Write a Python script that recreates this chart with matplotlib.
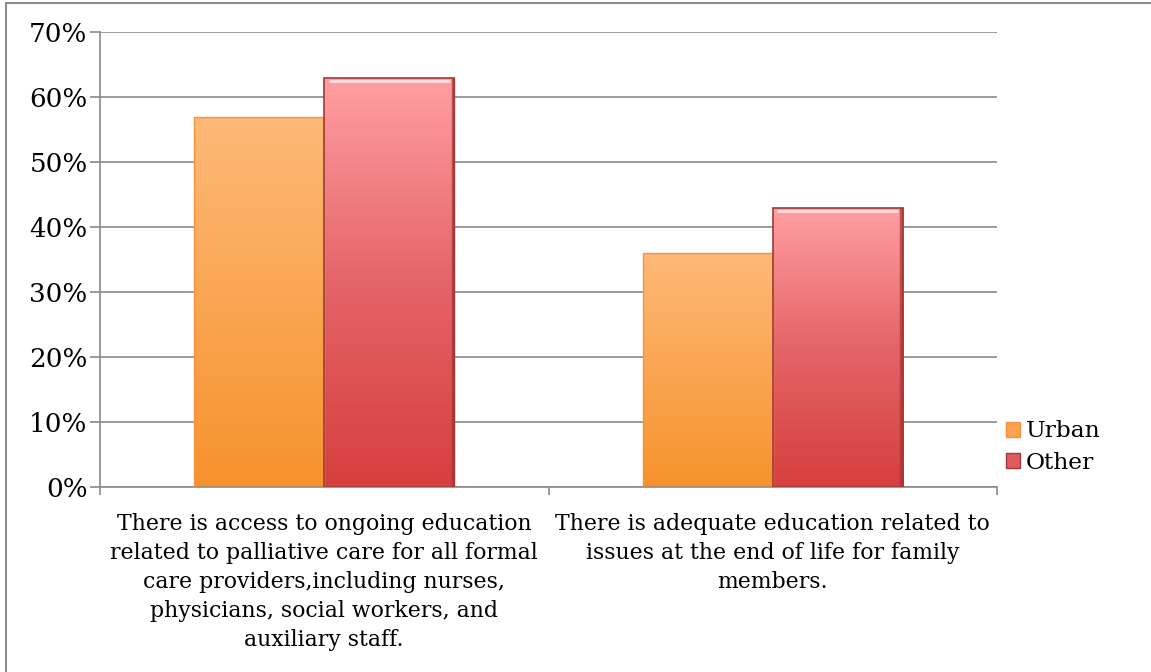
import numpy as np
import matplotlib.pyplot as plt
from matplotlib.patches import Rectangle, Patch
from matplotlib.colors import LinearSegmentedColormap

categories = ["There is access to ongoing education\nrelated to palliative care for all formal\ncare providers,including nurses,\nphysicians, social workers, and\nauxiliary staff.",
              "There is adequate education related to\nissues at the end of life for family\nmembers."]
series_names = ["Urban", "Other"]
urban = [57, 36]
other = [63, 43]
y_ticks = [0, 10, 20, 30, 40, 50, 60, 70]

plt.rcParams['font.family'] = ['DejaVu Serif']
FS = 15.8

fig = plt.figure(figsize=(11.51, 6.72), dpi=100)
ax = fig.add_axes([100 / 1151, 1 - 487 / 672, 897 / 1151, 455 / 672])

x = np.arange(len(categories))
w = 0.29

# gradient colours for each series, bottom -> top
grad = {
    "Urban": LinearSegmentedColormap.from_list("u", ["#f7922d", "#fdb977"]),
    "Other": LinearSegmentedColormap.from_list("o", ["#d63f3d", "#e56468", "#ff9fa1"]),
}
edge = {"Urban": "#f59340", "Other": "#9e3a3a"}

for name, vals, off in [("Urban", urban, -w / 2), ("Other", other, w / 2)]:
    bars = ax.bar(x + off, vals, w, color="none", edgecolor=edge[name],
                  linewidth=1.0 if name == "Urban" else 1.2, zorder=3)
    for b in bars:
        x0, h = b.get_x(), b.get_height()
        img = np.linspace(0, 1, 256).reshape(-1, 1)
        im = ax.imshow(img, cmap=grad[name], origin="lower", aspect="auto",
                       extent=[x0, x0 + w, 0, h], zorder=2)
        im.set_clip_path(b)
        if name == "Other":
            # bevel highlight along the top and shading on the right edge
            ax.plot([x0 + 0.01, x0 + w - 0.01], [h - 0.5, h - 0.5],
                    color="#ffe0e0", lw=2, zorder=4, solid_capstyle="butt")
            ax.plot([x0 + w - 0.004, x0 + w - 0.004], [0.3, h - 0.3],
                    color="#a83434", lw=2.5, zorder=4, alpha=0.7)

ax.set_xlim(-0.5, 1.5)
ax.set_ylim(0, 70)
ax.set_yticks(y_ticks)
ax.set_yticklabels([f"{v}%" for v in y_ticks], fontsize=FS + 3)
ax.yaxis.grid(True, color="#8a8a8a", lw=1.2)
ax.set_axisbelow(True)

ax.set_xticks(x)
ax.set_xticklabels(categories, fontsize=FS, linespacing=1.4)
ax.tick_params(axis="x", which="major", length=0, pad=19)
ax.set_xticks([-0.5, 0.5, 1.5], minor=True)
ax.tick_params(axis="x", which="minor", length=6, color="#8a8a8a", width=1.2)
ax.tick_params(axis="y", length=7, color="#8a8a8a", width=1.2, pad=2)

for s in ["top", "right"]:
    ax.spines[s].set_visible(False)
for s in ["left", "bottom"]:
    ax.spines[s].set_color("#8a8a8a")
    ax.spines[s].set_linewidth(1.2)

handles = [Patch(facecolor="#fba24f", edgecolor="#f59340"),
           Patch(facecolor="#e35a5c", edgecolor="#9e3a3a")]
fig.legend(handles, series_names, loc="center left", bbox_to_anchor=(1006 / 1151, 1 - 447 / 672),
           frameon=False, fontsize=FS + 1, handlelength=0.6, handleheight=0.6,
           handletextpad=0.25, labelspacing=0.4, borderpad=0, borderaxespad=0)

# outer frame of the chart area
fig.patches.append(Rectangle((6 / 1151, -0.05), 1.1, 1 - 3 / 672 + 0.05, transform=fig.transFigure,
                             fill=False, edgecolor="#8c8c8c", lw=1.5))

fig.savefig("out.png", dpi=100)
